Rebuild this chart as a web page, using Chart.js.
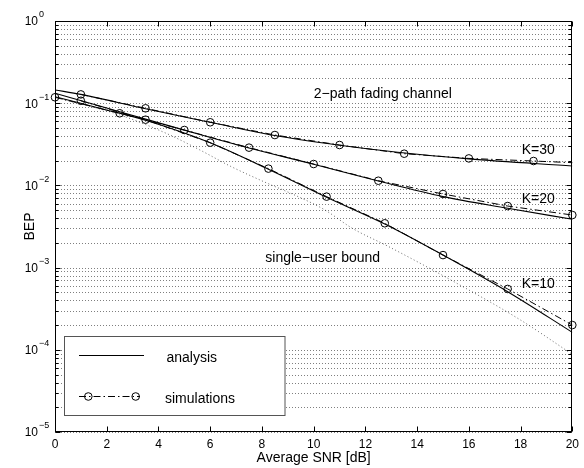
<!DOCTYPE html>
<html>
<head>
<meta charset="utf-8">
<script src="https://cdn.jsdelivr.net/npm/chart.js@4.4.1/dist/chart.umd.min.js"></script>
<style>
  html, body { margin: 0; padding: 0; background: #fff; }
</style>
</head>
<body>
<canvas id="bep" width="584" height="468"></canvas>
<script>
// analysis curves (solid)
const snrK10 = [0, 1.73, 3.5, 6, 8.25, 10.5, 12.75, 15, 17.5, 20];
const bepK10 = [0.120, 0.087, 0.062, 0.033, 0.0157, 0.00716, 0.00339, 0.00142, 0.000509, 0.000163];
const snrK20 = [0, 1.73, 3.5, 5, 7.5, 10, 12.5, 15, 17.5, 20];
const bepK20 = [0.132, 0.0925, 0.064, 0.047, 0.0285, 0.0181, 0.0113, 0.0073, 0.00527, 0.00387];
const snrK30 = [0, 1, 3.5, 6, 8.5, 11, 13.25, 16, 20];
const bepK30 = [0.145, 0.128, 0.0857, 0.0586, 0.0404, 0.0308, 0.0253, 0.0210, 0.0172];

// simulation points (dash-dot with circles)
const snrK10Sim = [1, 3.5, 6, 8.25, 10.5, 12.75, 15, 17.5, 20];
const bepK10Sim = [0.107, 0.063, 0.0331, 0.016, 0.0073, 0.00346, 0.00142, 0.00055, 0.0002];
const snrK20Sim = [0, 2.5, 5, 7.5, 10, 12.5, 15, 17.5, 20];
const bepK20Sim = [0.118, 0.0754, 0.0472, 0.0288, 0.0182, 0.0114, 0.00786, 0.00561, 0.00436];
const snrK30Sim = [1, 3.5, 6, 8.5, 11, 13.5, 16, 18.5, 20];
const bepK30Sim = [0.128, 0.0867, 0.0586, 0.041, 0.031, 0.0243, 0.0213, 0.0198, 0.0189];

// single-user bound (dotted)
const snrBound = [0, 2.5, 4.3, 5.6, 6.8, 8.1, 9.4, 10.4, 11.5, 12.9, 15.4, 18, 20];
const bepBound = [0.118, 0.072, 0.043, 0.027, 0.017, 0.011, 0.0073, 0.0051, 0.0030, 0.0018, 0.00068, 0.00023, 0.000088];

const snrTicks = [0, 2, 4, 6, 8, 10, 12, 14, 16, 18, 20];
const bepDecades = [0, -1, -2, -3, -4, -5];
const legendLabels = ['analysis', 'simulations'];

const notes = [
  { text: '2\u2212path fading channel', snr: 10, bep: 0.129 },
  { text: 'K=30', snr: 18.04, bep: 0.027 },
  { text: 'K=20', snr: 18.04, bep: 0.00678 },
  { text: 'K=10', snr: 18.04, bep: 0.00063 },
  { text: 'single\u2212user bound', snr: 8.13, bep: 0.00131 }
];

const FONT = "'Liberation Sans', Arial, Helvetica, sans-serif";
const DASHDOT = [7, 3, 1.5, 3];

function pts(xs, ys) {
  return xs.map((x, i) => ({ x: x, y: ys[i] }));
}

function analysis(label, xs, ys) {
  return {
    label: label,
    data: pts(xs, ys),
    borderColor: '#000',
    borderWidth: 1.1,
    pointRadius: 0,
    cubicInterpolationMode: 'monotone'
  };
}

function simulation(label, xs, ys, hideLast) {
  return {
    label: label,
    data: pts(xs, ys),
    borderColor: '#000',
    borderWidth: 1,
    borderDash: DASHDOT,
    pointStyle: 'circle',
    pointRadius: xs.map((x, i) => (hideLast && i === xs.length - 1) ? 0 : 3.8),
    pointBorderColor: '#000',
    pointBorderWidth: 1,
    pointBackgroundColor: 'rgba(0,0,0,0)',
    tension: 0,
    clip: 6
  };
}

// minor and major log positions 1..9 x 10^e
const logTicks = [];
for (let e = -5; e <= 0; e++) {
  for (let m = 1; m <= 9; m++) {
    const v = m * Math.pow(10, e);
    if (v <= 1.0000001) logTicks.push({ value: v, major: m === 1 });
  }
}

const axesPlugin = {
  id: 'matlabAxes',
  beforeDatasetsDraw(chart) {
    const { ctx, chartArea: a, scales: { y } } = chart;
    ctx.save();
    ctx.strokeStyle = 'rgba(0,0,0,0.5)';
    ctx.lineWidth = 1;
    ctx.setLineDash([1, 2]);
    const x0 = Math.round(a.left);
    logTicks.forEach(t => {
      const py = Math.round(y.getPixelForValue(t.value)) + 0.5;
      ctx.beginPath();
      ctx.moveTo(x0, py);
      ctx.lineTo(a.right, py);
      ctx.stroke();
    });
    ctx.restore();
  },
  afterDatasetsDraw(chart) {
    const { ctx, chartArea: a, scales: { x, y } } = chart;
    ctx.save();
    ctx.strokeStyle = '#000';
    ctx.lineWidth = 1;
    ctx.setLineDash([]);
    const L = Math.round(a.left) + 0.5, R = Math.round(a.right) - 0.5;
    const T = Math.round(a.top) + 0.5, B = Math.round(a.bottom) - 0.5;
    ctx.strokeRect(L, T, R - L, B - T);

    // inward ticks
    ctx.beginPath();
    snrTicks.forEach(v => {
      const px = Math.round(x.getPixelForValue(v)) + 0.5;
      ctx.moveTo(px, B); ctx.lineTo(px, B - 5);
      ctx.moveTo(px, T); ctx.lineTo(px, T + 5);
    });
    logTicks.forEach(t => {
      const py = Math.round(y.getPixelForValue(t.value)) + 0.5;
      const len = t.major ? 5 : 3;
      ctx.moveTo(L, py); ctx.lineTo(L + len, py);
      ctx.moveTo(R, py); ctx.lineTo(R - len, py);
    });
    ctx.stroke();

    // y tick labels 10^e
    ctx.fillStyle = '#000';
    bepDecades.forEach(e => {
      const py = y.getPixelForValue(Math.pow(10, e));
      ctx.font = '12px ' + FONT;
      ctx.textAlign = 'right';
      ctx.textBaseline = 'middle';
      ctx.fillText('10', 38, py + 1);
      ctx.font = '9px ' + FONT;
      ctx.textAlign = 'left';
      ctx.fillText(e === 0 ? '0' : '\u2212' + Math.abs(e), 39, py - 6);
    });

    // text notes in data coordinates
    ctx.font = '14px ' + FONT;
    ctx.textAlign = 'left';
    ctx.textBaseline = 'middle';
    notes.forEach(n => {
      ctx.fillText(n.text, x.getPixelForValue(n.snr), y.getPixelForValue(n.bep));
    });

    // legend box
    const bx = 64.5, by = 336.5, bw = 220.5, bh = 79;
    ctx.fillStyle = '#fff';
    ctx.fillRect(bx, by, bw, bh);
    ctx.strokeStyle = '#555';
    ctx.strokeRect(bx, by, bw, bh);

    ctx.strokeStyle = '#000';
    ctx.lineWidth = 1.1;
    ctx.beginPath();
    ctx.moveTo(79, 355.5); ctx.lineTo(144, 355.5);
    ctx.stroke();

    ctx.lineWidth = 1;
    ctx.setLineDash(DASHDOT);
    ctx.beginPath();
    ctx.moveTo(79, 396.5); ctx.lineTo(140, 396.5);
    ctx.stroke();
    ctx.setLineDash([]);
    [88.3, 135.7].forEach(cx => {
      ctx.beginPath();
      ctx.arc(cx, 396.5, 3.8, 0, Math.PI * 2);
      ctx.stroke();
    });

    ctx.fillStyle = '#000';
    ctx.font = '14px ' + FONT;
    ctx.fillText(legendLabels[0], 166.5, 358);
    ctx.fillText(legendLabels[1], 165, 399.5);
    ctx.restore();
  }
};

new Chart(document.getElementById('bep'), {
  type: 'line',
  data: {
    datasets: [
      analysis('K=10', snrK10, bepK10),
      analysis('K=20', snrK20, bepK20),
      analysis('K=30', snrK30, bepK30),
      simulation('K=10 sim', snrK10Sim, bepK10Sim, false),
      simulation('K=20 sim', snrK20Sim, bepK20Sim, false),
      simulation('K=30 sim', snrK30Sim, bepK30Sim, true),
      {
        label: 'single-user bound',
        data: pts(snrBound, bepBound),
        borderColor: 'rgba(0,0,0,0.6)',
        borderWidth: 1,
        borderDash: [1, 2.5],
        pointRadius: 0,
        cubicInterpolationMode: 'monotone'
      }
    ]
  },
  options: {
    responsive: false,
    animation: false,
    devicePixelRatio: 1,
    layout: { padding: { top: 21, right: 8, left: 0, bottom: 0 } },
    plugins: {
      legend: { display: false },
      tooltip: { enabled: false }
    },
    scales: {
      x: {
        type: 'linear',
        min: 0,
        max: 20,
        grid: { display: false, drawTicks: false },
        border: { display: false },
        ticks: {
          stepSize: 2,
          padding: 5,
          color: '#000',
          font: { family: FONT, size: 12 },
          maxRotation: 0
        },
        title: {
          display: true,
          text: 'Average SNR [dB]',
          color: '#000',
          font: { family: FONT, size: 14 },
          padding: { top: 0, bottom: 1 }
        },
        afterFit(scale) { scale.height = 36; }
      },
      y: {
        type: 'logarithmic',
        min: 1e-5,
        max: 1,
        grid: { display: false, drawTicks: false },
        border: { display: false },
        ticks: { display: false },
        afterBuildTicks(scale) {
          scale.ticks = logTicks.map(t => ({ value: t.value, major: t.major }));
        },
        title: {
          display: true,
          text: 'BEP',
          color: '#000',
          font: { family: FONT, size: 14 },
          padding: { top: 22, bottom: 0 }
        },
        afterFit(scale) { scale.width = 55; }
      }
    }
  },
  plugins: [axesPlugin]
});
</script>
</body>
</html>
